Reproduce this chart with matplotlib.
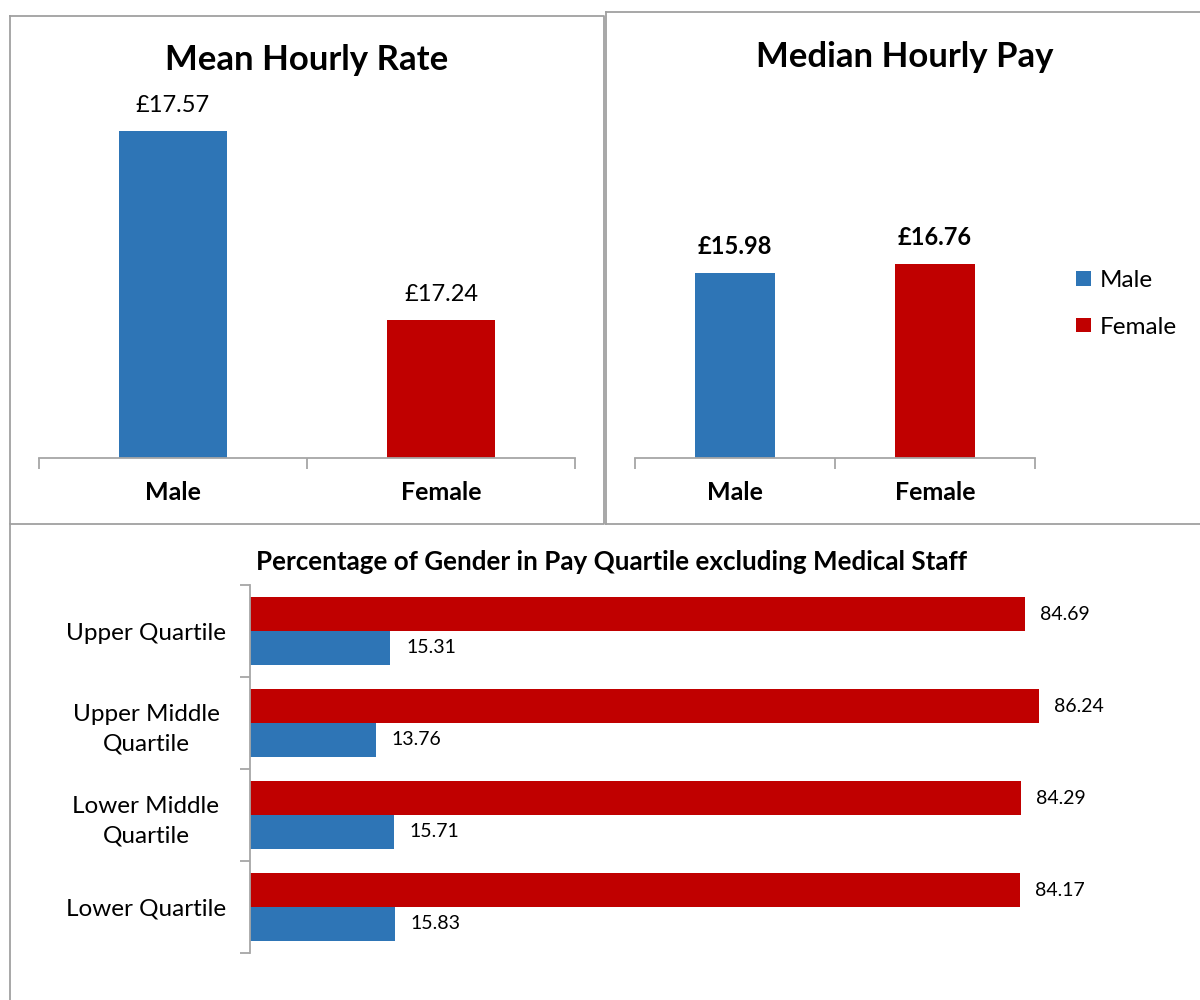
import matplotlib
matplotlib.use("Agg")
import matplotlib.pyplot as plt
from matplotlib.lines import Line2D
from matplotlib.patches import Patch

plt.rcParams['font.family'] = ['Lato', 'DejaVu Sans']

# ---------------- data ----------------
genders = ["Male", "Female"]
mean_rates = [17.57, 17.24]
median_rates = [15.98, 16.76]

quartiles = ["Upper Quartile", "Upper Middle\nQuartile", "Lower Middle\nQuartile", "Lower Quartile"]
female_pct = [84.69, 86.24, 84.29, 84.17]
male_pct = [15.31, 13.76, 15.71, 15.83]

MALE_C = "#2E75B6"
FEMALE_C = "#C00000"
colors = [MALE_C, FEMALE_C]
GRID_C = "#A6A6A6"

W, H = 1200, 1000
fig = plt.figure(figsize=(W / 100, H / 100), dpi=100)


def rect(x0, y0, x1, y1):
    """pixel box (top-left origin) -> figure fraction rect"""
    return [x0 / W, 1 - y1 / H, (x1 - x0) / W, (y1 - y0) / H]


def px2pt(p):
    return p * 0.72


# ---------------- panel borders ----------------
def fline(xs, ys):
    fig.add_artist(Line2D([x / W for x in xs], [1 - y / H for y in ys],
                          color="#A0A0A0", lw=1.3, transform=fig.transFigure))

# left panel
fline([10, 604, 604, 10, 10], [16, 16, 524, 524, 16])
# right panel
fline([606, 1200], [12, 12])
fline([606, 606], [12, 524])
fline([606, 1200], [524, 524])
# bottom panel
fline([10, 10], [524, 1000])


def column_axes(ax, values, ylim, label_bold):
    x = list(range(len(values)))
    ax.bar(x, values, width=0.4, color=colors, zorder=2)
    ax.set_xlim(-0.5, len(values) - 0.5)
    ax.set_ylim(*ylim)
    for s in ["top", "right", "left"]:
        ax.spines[s].set_visible(False)
    ax.spines["bottom"].set_color(GRID_C)
    ax.spines["bottom"].set_linewidth(1.3)
    ax.set_yticks([])
    ax.set_xticks(x)
    ax.set_xticklabels([])
    ax.tick_params(axis="x", which="major", length=0)
    ax.set_xticks([i - 0.5 for i in range(len(values) + 1)], minor=True)
    ax.tick_params(axis="x", which="minor", length=8, width=1.3, color=GRID_C, direction="out")
    for i, v in enumerate(values):
        ax.annotate(f"£{v:.2f}", xy=(i, v), xytext=(0, px2pt(26)), textcoords="offset points",
                    ha="center", va="center", fontsize=17,
                    fontweight="bold" if label_bold else "normal", color="black")
        ax.annotate(genders[i], xy=(i, 0), xycoords=("data", "axes fraction"),
                    xytext=(0, -px2pt(35)), textcoords="offset points",
                    ha="center", va="center", fontsize=18, fontweight="bold")
    return ax


# ---------------- Mean Hourly Rate ----------------
ax1 = fig.add_axes(rect(39, 114, 575, 458))
column_axes(ax1, mean_rates, (17.0, 17.6), False)
fig.text(307 / W, 1 - 60 / H, "Mean Hourly Rate", ha="center", va="center",
         fontsize=25, fontweight="bold")

# ---------------- Median Hourly Pay ----------------
ax2 = fig.add_axes(rect(635, 226, 1035, 458))
column_axes(ax2, median_rates, (0, 20), True)
fig.text(905 / W, 1 - 57 / H, "Median Hourly Pay", ha="center", va="center",
         fontsize=25, fontweight="bold")

handles = [Patch(facecolor=MALE_C), Patch(facecolor=FEMALE_C)]
fig.legend(handles, genders, loc="center left",
           bbox_to_anchor=(1076 / W, 1 - 304 / H), frameon=False,
           fontsize=17.5, handlelength=0.62, handleheight=0.55,
           handletextpad=0.35, labelspacing=1.05, borderpad=0, borderaxespad=0)

# ---------------- Quartile bars ----------------
ax3 = fig.add_axes(rect(250, 585, 1165, 953))
n = len(quartiles)
ys = list(range(n))
h = 0.365
ax3.barh([y - h / 2 for y in ys], female_pct, height=h, color=FEMALE_C, zorder=2)
ax3.barh([y + h / 2 for y in ys], male_pct, height=h, color=MALE_C, zorder=2)
ax3.set_xlim(0, 100)
ax3.set_ylim(n - 0.5, -0.5)
for s in ["top", "right", "bottom"]:
    ax3.spines[s].set_visible(False)
ax3.spines["left"].set_color(GRID_C)
ax3.spines["left"].set_linewidth(1.3)
ax3.set_xticks([])
ax3.set_yticks(ys)
ax3.set_yticklabels(quartiles, fontsize=17.5, ha="center", multialignment="center",
                    linespacing=1.5)
ax3.tick_params(axis="y", which="major", length=0, pad=px2pt(104))
ax3.set_yticks([i - 0.5 for i in range(n + 1)], minor=True)
ax3.tick_params(axis="y", which="minor", length=7, width=1.3, color=GRID_C, direction="out")
for i in range(n):
    ax3.annotate(f"{female_pct[i]:.2f}", xy=(female_pct[i], i - h / 2), xytext=(px2pt(15), 0),
                 textcoords="offset points", ha="left", va="center", fontsize=14)
    ax3.annotate(f"{male_pct[i]:.2f}", xy=(male_pct[i], i + h / 2), xytext=(px2pt(16), 0),
                 textcoords="offset points", ha="left", va="center", fontsize=14)

fig.text(612 / W, 1 - 562 / H, "Percentage of Gender in Pay Quartile excluding Medical Staff",
         ha="center", va="center", fontsize=18.7, fontweight="bold")

fig.savefig("out.png", dpi=100, facecolor="white")
